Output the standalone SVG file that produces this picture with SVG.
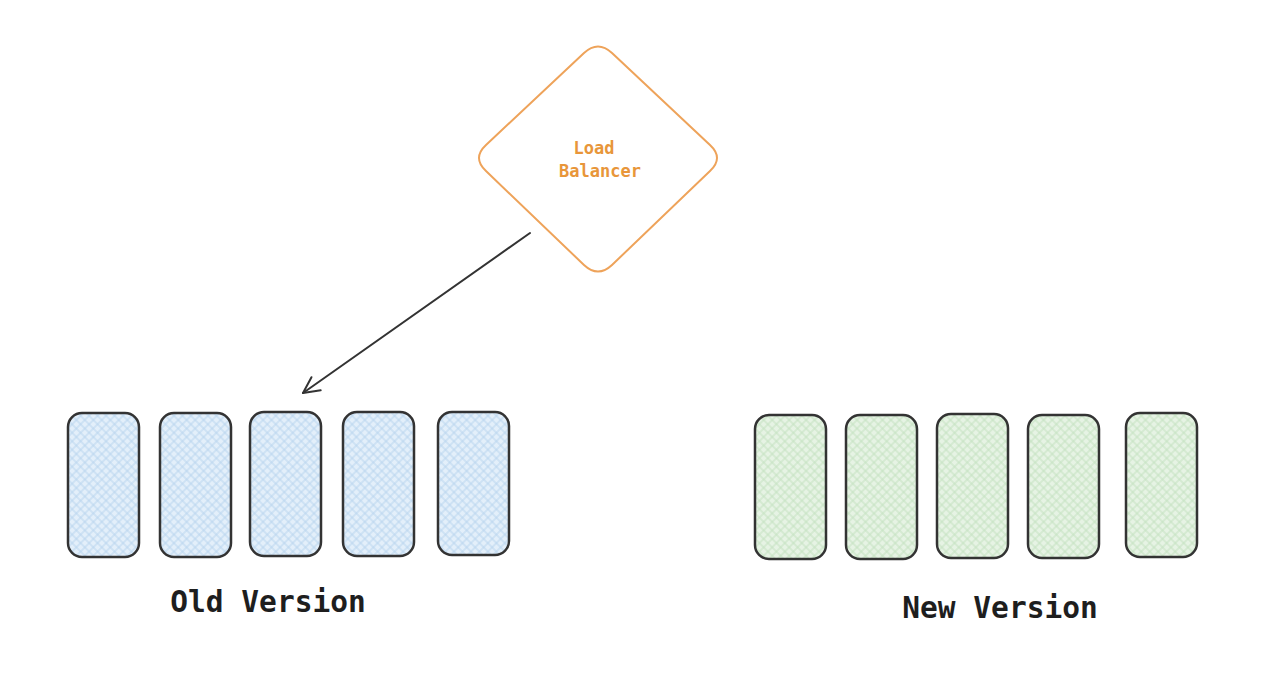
<svg xmlns="http://www.w3.org/2000/svg" width="1262" height="686" viewBox="0 0 1262 686">
<defs>
<pattern id="hb" patternUnits="userSpaceOnUse" width="6" height="6" patternTransform="rotate(45)">
<rect width="6" height="6" fill="#e3effa"/>
<path d="M0 3H6M3 0V6" stroke="#b9d5ee" stroke-width="1"/>
</pattern>
<pattern id="hg" patternUnits="userSpaceOnUse" width="6" height="6" patternTransform="rotate(45)">
<rect width="6" height="6" fill="#e6f3e4"/>
<path d="M0 3H6M3 0V6" stroke="#c4e2c1" stroke-width="1"/>
</pattern>
<marker id="ah" viewBox="0 0 20 20" refX="18" refY="10" markerWidth="20" markerHeight="20" markerUnits="userSpaceOnUse" orient="auto">
<path d="M2 2L18 10L2 18" fill="none" stroke="#333" stroke-width="2" stroke-linecap="round" stroke-linejoin="round"/>
</marker>
</defs>
<style>
.srv{stroke:#333333;stroke-width:2.5}
.old{fill:url(#hb)}
.new{fill:url(#hg)}
.lbl{font-family:"DejaVu Sans Mono","Liberation Mono",monospace;font-weight:bold;fill:#1e1e1e;font-size:29.5px}
.lb{font-family:"DejaVu Sans Mono","Liberation Mono",monospace;font-weight:bold;fill:#e8963a;font-size:17px}
</style>
<rect width="1262" height="686" fill="#ffffff"/>
<g id="load-balancer">
<path d="M584 53Q598 40 612 53L710 145Q724 158 710 171L612 265Q598 278 584 265L486 171Q472 158 486 145Z" fill="#ffffff" stroke="#eea35a" stroke-width="2"/>
<text class="lb" x="594" y="154" text-anchor="middle">Load</text>
<text class="lb" x="600" y="177" text-anchor="middle">Balancer</text>
</g>
<g id="old-1"><rect class="srv old" x="68" y="413" width="71" height="144" rx="14"/></g>
<g id="old-2"><rect class="srv old" x="160" y="413" width="71" height="144" rx="14"/></g>
<g id="old-3"><rect class="srv old" x="250" y="412" width="71" height="144" rx="14"/></g>
<g id="old-4"><rect class="srv old" x="343" y="412" width="71" height="144" rx="14"/></g>
<g id="old-5"><rect class="srv old" x="438" y="412" width="71" height="143" rx="14"/></g>
<g id="new-1"><rect class="srv new" x="755" y="415" width="71" height="144" rx="14"/></g>
<g id="new-2"><rect class="srv new" x="846" y="415" width="71" height="144" rx="14"/></g>
<g id="new-3"><rect class="srv new" x="937" y="414" width="71" height="144" rx="14"/></g>
<g id="new-4"><rect class="srv new" x="1028" y="415" width="71" height="143" rx="14"/></g>
<g id="new-5"><rect class="srv new" x="1126" y="413" width="71" height="144" rx="14"/></g>
<g id="old-label"><text class="lbl" x="268" y="612" text-anchor="middle">Old Version</text></g>
<g id="new-label"><text class="lbl" x="1000" y="618" text-anchor="middle">New Version</text></g>
<g id="connectors">
<path d="M530 233L303 393" fill="none" stroke="#333" stroke-width="2" stroke-linecap="round" marker-end="url(#ah)"/>
</g>
</svg>
